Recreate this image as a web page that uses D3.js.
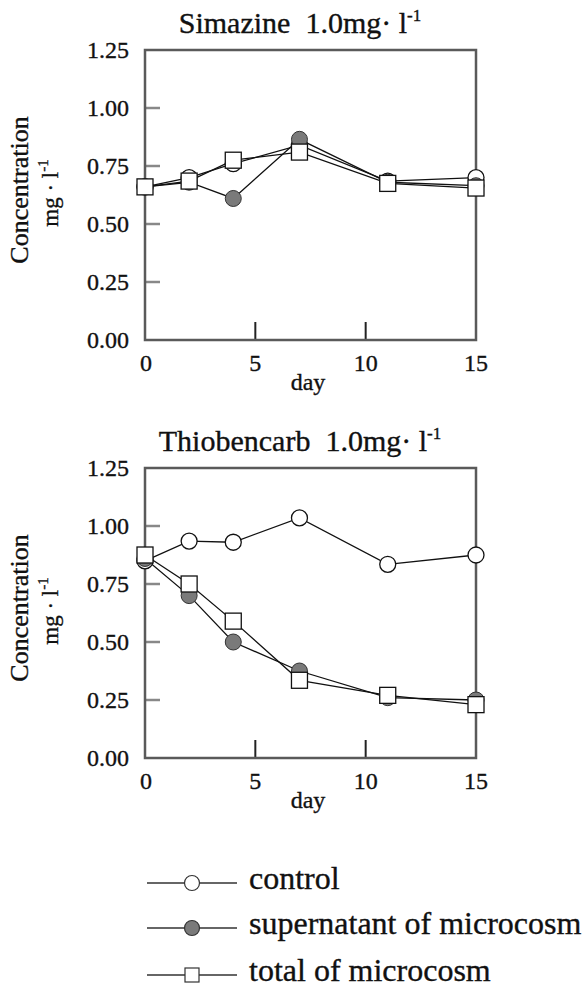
<!DOCTYPE html>
<html>
<head>
<meta charset="utf-8">
<script src="https://cdn.jsdelivr.net/npm/d3@7"></script>
<style>
  body { margin: 0; background: #fff; }
</style>
</head>
<body>
<script>
	var width = 584;
	var height = 992;

	// data
	var days = [0, 2, 4, 7, 11, 15];
	var seriesNames = ["control", "supernatant of microcosm", "total of microcosm"];

	var simazineControl = [0.66, 0.70, 0.76, 0.84, 0.685, 0.70];
	var simazineSupernatant = [0.66, 0.68, 0.61, 0.865, 0.68, 0.665];
	var simazineTotal = [0.66, 0.685, 0.775, 0.81, 0.675, 0.655];

	var thioControl = [0.85, 0.935, 0.93, 1.035, 0.835, 0.875];
	var thioSupernatant = [0.86, 0.70, 0.50, 0.375, 0.26, 0.25];
	var thioTotal = [0.875, 0.75, 0.59, 0.335, 0.27, 0.23];

	var yTicks = [0, 0.25, 0.5, 0.75, 1.0, 1.25];
	var xTicks = [0, 5, 10, 15];

	var serif = "'Liberation Serif', 'DejaVu Serif', 'Times New Roman', serif";

	var svg = d3.select("body")
		.append("svg")
		.attr( "width", width )
		.attr( "height", height )
		.style( "font-family", serif )

	var x = d3.scaleLinear().domain([0, 15]).range([145, 476]);

	function label(sel, size) {
		return sel.style("font-family", serif)
			.style("font-size", size + "px")
			.attr("fill", "#111")
			.attr("stroke", "#111")
			.attr("stroke-width", 0.35)
	}

	function drawPanel(top, title, control, supernatant, total) {
		var y = d3.scaleLinear().domain([0, 1.25]).range([top + 290, top]);
		var g = svg.append("g");

		// title
		var t = label(g.append("text"), 30)
			.attr("x", 300)
			.attr("y", top - 17)
			.attr("text-anchor", "middle")
		t.append("tspan").text(title + "\u00a0\u00a01.0mg\u00b7 l")
		t.append("tspan").attr("dy", -12).style("font-size", "17px").text("-1")

		// inner tick marks
		g.selectAll(".ytick")
			.data(yTicks.filter(function(d){ return d > 0 && d < 1.25; }))
			.enter()
			.append("line")
			.attr("x1", x(0)).attr("x2", x(0) + 15)
			.attr("y1", function(d){ return y(d); })
			.attr("y2", function(d){ return y(d); })
			.attr("stroke", "#888")
			.attr("stroke-width", 2.5)

		g.selectAll(".xtick")
			.data(xTicks.filter(function(d){ return d > 0 && d < 15; }))
			.enter()
			.append("line")
			.attr("x1", function(d){ return x(d); })
			.attr("x2", function(d){ return x(d); })
			.attr("y1", y(0)).attr("y2", y(0) - 18)
			.attr("stroke", "#222")
			.attr("stroke-width", 2)

		// frame
		g.append("rect")
			.attr("x", x(0)).attr("y", y(1.25))
			.attr("width", x(15) - x(0))
			.attr("height", y(0) - y(1.25))
			.attr("fill", "none")
			.attr("stroke", "#5a5a5a")
			.attr("stroke-width", 2.5)

		// tick labels
		label(g.selectAll(".ylab")
			.data(yTicks)
			.enter()
			.append("text"), 24)
			.attr("x", 129)
			.attr("y", function(d){ return y(d) + 8; })
			.attr("text-anchor", "end")
			.text(function(d){ return d3.format(".2f")(d); })

		label(g.selectAll(".xlab")
			.data(xTicks)
			.enter()
			.append("text"), 24)
			.attr("x", function(d){ return x(d) + (d == 0 ? 1 : 0); })
			.attr("y", y(0) + 31)
			.attr("text-anchor", "middle")
			.text(function(d){ return d; })

		label(g.append("text"), 24)
			.attr("x", 308)
			.attr("y", y(0) + 50)
			.attr("text-anchor", "middle")
			.text("day")

		// y axis title
		label(g.append("text"), 26)
			.attr("transform", "translate(28," + (top + 140) + ") rotate(-90)")
			.attr("text-anchor", "middle")
			.text("Concentration")
		var yl = label(g.append("text"), 23)
			.attr("transform", "translate(58," + (top + 143) + ") rotate(-90)")
			.attr("text-anchor", "middle")
		yl.append("tspan").text("mg \u00b7 l")
		yl.append("tspan").attr("dy", -10).style("font-size", "15px").text("-1")

		// series
		var line = d3.line()
			.x(function(d, i){ return x(days[i]); })
			.y(function(d){ return y(d); })

		var all = [control, supernatant, total];
		all.forEach(function(vals) {
			g.append("path")
				.attr("d", line(vals))
				.attr("fill", "none")
				.attr("stroke", "#111")
				.attr("stroke-width", 1.3)
		});

		g.selectAll(".ctrl")
			.data(control)
			.enter()
			.append("circle")
			.attr("cx", function(d, i){ return x(days[i]); })
			.attr("cy", function(d){ return y(d); })
			.attr("r", 8)
			.attr("fill", "white")
			.attr("stroke", "#111")
			.attr("stroke-width", 1.3)

		g.selectAll(".sup")
			.data(supernatant)
			.enter()
			.append("circle")
			.attr("cx", function(d, i){ return x(days[i]); })
			.attr("cy", function(d){ return y(d); })
			.attr("r", 8)
			.attr("fill", "#7a7a7a")
			.attr("stroke", "#333")
			.attr("stroke-width", 1)

		g.selectAll(".tot")
			.data(total)
			.enter()
			.append("rect")
			.attr("x", function(d, i){ return x(days[i]) - 8; })
			.attr("y", function(d){ return y(d) - 8; })
			.attr("width", 16)
			.attr("height", 16)
			.attr("fill", "white")
			.attr("stroke", "#111")
			.attr("stroke-width", 1.3)
	}

	drawPanel(50, "Simazine", simazineControl, simazineSupernatant, simazineTotal);
	drawPanel(468, "Thiobencarb", thioControl, thioSupernatant, thioTotal);

	// legend
	var legendY = [883, 928, 975];
	var legend = svg.append("g");
	seriesNames.forEach(function(name, i) {
		var ly = legendY[i];
		legend.append("line")
			.attr("x1", 147).attr("x2", 237)
			.attr("y1", ly).attr("y2", ly)
			.attr("stroke", "#333")
			.attr("stroke-width", 1.3)
		if (i == 2) {
			legend.append("rect")
				.attr("x", 185).attr("y", ly - 7)
				.attr("width", 14).attr("height", 14)
				.attr("fill", "white").attr("stroke", "#333").attr("stroke-width", 1.2)
		} else {
			legend.append("circle")
				.attr("cx", 192).attr("cy", ly).attr("r", 7.5)
				.attr("fill", i == 0 ? "white" : "#7a7a7a")
				.attr("stroke", "#333").attr("stroke-width", 1.2)
		}
		label(legend.append("text"), 32)
			.attr("x", 249)
			.attr("y", ly + 6)
			.text(name)
	});
</script>
</body>
</html>
